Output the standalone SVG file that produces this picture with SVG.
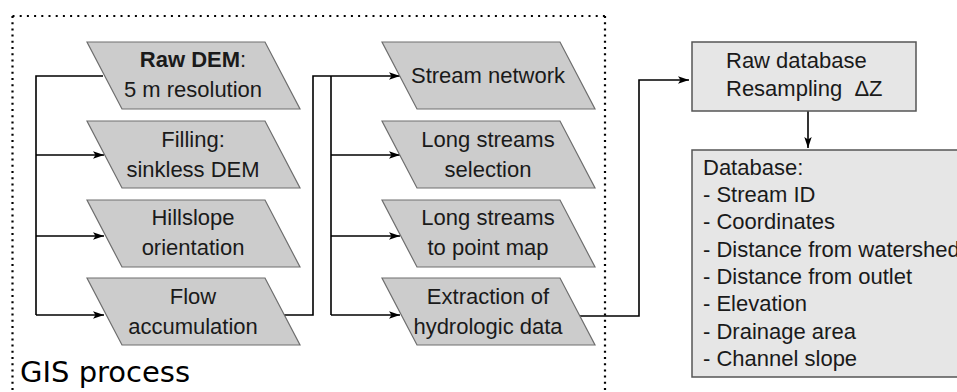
<svg xmlns="http://www.w3.org/2000/svg" width="957" height="392" viewBox="0 0 957 392">
<defs>
<style>
.para{fill:#cccccc;stroke:#6e6e6e;stroke-width:1.2}
.box{fill:#e6e6e6;stroke:#555555;stroke-width:1.5}
.t{font-family:"Liberation Sans",Arial,sans-serif;font-size:22px;fill:#1a1a1a}
.c{text-anchor:middle}
.w{fill:none;stroke:#000;stroke-width:1.6}
.a{marker-end:url(#arr)}
.dot{fill:none;stroke:#000;stroke-width:2.2;stroke-linecap:butt}
</style>
<marker id="arr" markerUnits="userSpaceOnUse" markerWidth="12" markerHeight="8" refX="11" refY="4" orient="auto">
<path d="M0,0.3 L11,4 L0,7.7 L2.5,4 Z" fill="#000"/>
</marker>
</defs>
<rect width="957" height="392" fill="#ffffff"/>
<g id="gis-frame">
<path class="dot" d="M12.5,16 H605" stroke-dasharray="2 5.2"/>
<path class="dot" d="M12.5,16 V392" stroke-dasharray="2 4.2"/>
<path class="dot" d="M605,16 V392" stroke-dasharray="2 4.2"/>
<text x="20" y="382" style="font-family:'DejaVu Sans',sans-serif;font-size:29px;fill:#000">GIS process</text>
</g>
<g id="connectors">
<path class="w" d="M103,76 H36 V315"/>
<path class="w a" d="M36,155 H104"/>
<path class="w a" d="M36,236 H104"/>
<path class="w a" d="M36,315 H104"/>
<path class="w a" d="M284,315 H313 V76 H400"/>
<path class="w" d="M331,76 V315"/>
<path class="w a" d="M331,155 H400"/>
<path class="w a" d="M331,236 H400"/>
<path class="w a" d="M331,315 H400"/>
<path class="w a" d="M580,316 H639 V80 H689"/>
<path class="w a" d="M808,111 V148"/>
</g>
<g id="raw-dem">
<polygon class="para" points="87,42 265,42 300,109 122,109"/>
<text class="t c" x="193" y="67"><tspan font-weight="bold">Raw DEM</tspan>:</text>
<text class="t c" x="193" y="97">5 m resolution</text>
</g>
<g id="filling">
<polygon class="para" points="87,121 265,121 300,188 122,188"/>
<text class="t c" x="193" y="147">Filling:</text>
<text class="t c" x="193" y="177">sinkless DEM</text>
</g>
<g id="hillslope">
<polygon class="para" points="87,200 265,200 300,267 122,267"/>
<text class="t c" x="193" y="225">Hillslope</text>
<text class="t c" x="193" y="255">orientation</text>
</g>
<g id="flow">
<polygon class="para" points="87,278 265,278 300,345 122,345"/>
<text class="t c" x="193" y="304">Flow</text>
<text class="t c" x="193" y="334">accumulation</text>
</g>
<g id="stream-network">
<polygon class="para" points="382,42 560,42 595,109 417,109"/>
<text class="t c" x="488" y="83">Stream network</text>
</g>
<g id="long-selection">
<polygon class="para" points="382,121 560,121 595,188 417,188"/>
<text class="t c" x="488" y="147">Long streams</text>
<text class="t c" x="488" y="177">selection</text>
</g>
<g id="long-point">
<polygon class="para" points="382,200 560,200 595,267 417,267"/>
<text class="t c" x="488" y="225">Long streams</text>
<text class="t c" x="488" y="255">to point map</text>
</g>
<g id="extraction">
<polygon class="para" points="382,278 560,278 595,345 417,345"/>
<text class="t c" x="488" y="304">Extraction of</text>
<text class="t c" x="488" y="334">hydrologic data</text>
</g>
<g id="raw-database">
<rect class="box" x="692" y="42" width="224" height="69"/>
<text class="t" x="726" y="68">Raw database</text>
<text class="t" x="726" y="96" xml:space="preserve">Resampling  ΔZ</text>
</g>
<g id="database">
<rect class="box" x="692" y="150" width="280" height="227"/>
<text class="t" x="703" y="175">Database:</text>
<text class="t" x="703" y="202">- Stream ID</text>
<text class="t" x="703" y="229">- Coordinates</text>
<text class="t" x="703" y="257">- Distance from watershed</text>
<text class="t" x="703" y="284">- Distance from outlet</text>
<text class="t" x="703" y="311">- Elevation</text>
<text class="t" x="703" y="339">- Drainage area</text>
<text class="t" x="703" y="366">- Channel slope</text>
</g>
</svg>
